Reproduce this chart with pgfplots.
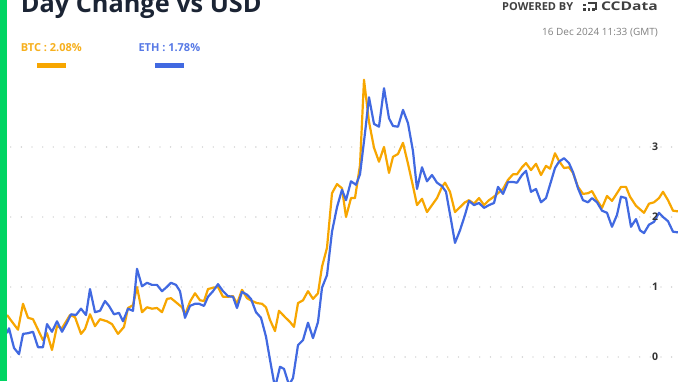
\documentclass[border=0pt]{standalone}
\usepackage{fontspec}
\setmainfont{Open Sans}
\usepackage{pgfplots}
\pgfplotsset{compat=1.18}
\definecolor{btc}{RGB}{247,166,0}
\definecolor{eth}{RGB}{65,105,225}
\definecolor{btclab}{RGB}{247,176,30}
\definecolor{ethlab}{RGB}{88,122,230}
\definecolor{barg}{RGB}{0,213,99}
\definecolor{titlec}{RGB}{27,36,52}
\definecolor{gridc}{RGB}{190,190,190}
\begin{document}
\begin{tikzpicture}[x=1pt,y=1pt]
\clip (0,0) rectangle (678,381);
\fill[white] (0,0) rectangle (678,381);
\begin{axis}[
  at={(0,0)}, anchor=south west,
  scale only axis, width=678pt, height=381pt,
  xmin=0, xmax=678, ymin=-0.343, ymax=5.1,
  axis lines=none, ticks=none, clip=true,
]
\pgfplotsinvokeforeach{0,1,2,3}{
  \draw[gridc, line width=1.3pt, line cap=round, dash pattern=on 0pt off 10.66pt] (axis cs:10.7,#1) -- (axis cs:675,#1);
}
\addplot[btc, line width=2.2pt, line join=round] coordinates {
(7,0.60)(18,0.39)(23,0.76)(28,0.56)(33,0.54)(43,0.24)(47,0.34)(52,0.10)(57,0.44)(62,0.41)
(70,0.60)(75,0.57)(81,0.33)(85,0.40)(90,0.61)(95,0.44)(100,0.54)(107,0.51)(112,0.47)(118,0.33)
(124,0.43)(128,0.70)(133,0.74)(137,1.00)(142,0.64)(147,0.71)(152,0.69)(157,0.70)(162,0.64)(167,0.83)
(171,0.84)(177,0.77)(182,0.71)(185,0.60)(190,0.79)(195,0.91)(200,0.81)(204,0.80)(208,0.97)(213,0.99)
(218,1.00)(223,0.86)(228,0.86)(233,0.87)(237,0.76)(242,0.96)(247,0.84)(252,0.80)(257,0.77)(262,0.76)
(266,0.71)(270,0.53)(275,0.37)(279,0.66)(285,0.57)(290,0.50)(294,0.43)(298,0.77)(303,0.81)(308,0.94)
(313,0.83)(318,0.91)(322,1.29)(327,1.56)(332,2.34)(337,2.47)(342,2.41)(346,2.00)(351,2.27)(355,2.27)
(360,2.74)(364,3.96)(369,3.36)(374,2.99)(379,2.79)(384,3.00)(389,2.63)(393,2.86)(398,2.90)(403,3.06)
(408,2.76)(413,2.44)(417,2.17)(422,2.26)(427,2.07)(432,2.17)(437,2.27)(442,2.43)(445,2.49)(450,2.36)
(455,2.07)(460,2.14)(465,2.21)(469,2.24)(474,2.19)(479,2.27)(484,2.17)(489,2.24)(494,2.29)(498,2.34)
(503,2.40)(508,2.53)(513,2.61)(517,2.61)(522,2.71)(526,2.77)(531,2.67)(536,2.76)(541,2.60)(546,2.73)
(550,2.69)(555,2.91)(559,2.80)(564,2.70)(569,2.71)(573,2.63)(578,2.43)(583,2.33)(588,2.34)(592,2.37)
(597,2.24)(602,2.13)(607,2.30)(612,2.23)(617,2.34)(621,2.43)(626,2.43)(630,2.29)(636,2.16)(640,2.11)
(644,2.06)(649,2.19)(654,2.21)(659,2.27)(663,2.36)(668,2.24)(673,2.09)(678,2.08)
};
\addplot[eth, line width=2.2pt, line join=round] coordinates {
(7,0.34)(9,0.41)(14,0.13)(19,0.04)(23,0.33)(28,0.34)(33,0.36)(38,0.14)(43,0.14)(47,0.47)
(52,0.36)(57,0.51)(62,0.36)(67,0.49)(71,0.61)(76,0.60)(81,0.69)(86,0.60)(90,0.97)(95,0.64)
(100,0.66)(105,0.80)(109,0.73)(114,0.61)(119,0.63)(123,0.51)(128,0.69)(133,0.66)(137,1.26)(142,1.01)
(147,1.06)(152,1.03)(157,1.03)(162,0.94)(166,0.99)(171,1.06)(176,1.03)(180,0.94)(185,0.56)(190,0.73)
(195,0.76)(199,0.76)(204,0.73)(208,0.86)(213,0.94)(218,1.04)(223,0.94)(228,0.87)(233,0.86)(237,0.70)
(242,0.93)(247,0.89)(251,0.83)(256,0.64)(261,0.56)(266,0.29)(270,-0.04)(275,-0.44)(280,-0.14)(284,-0.17)
(289,-0.40)(293,-0.30)(298,0.17)(303,0.24)(308,0.49)(313,0.27)(318,0.50)(322,0.99)(327,1.17)(332,1.79)
(337,2.14)(342,2.39)(346,2.24)(351,2.51)(356,2.46)(360,2.61)(365,3.20)(369,3.71)(374,3.33)(379,3.29)
(384,3.84)(389,3.41)(393,3.30)(398,3.29)(403,3.53)(408,3.34)(413,2.94)(417,2.40)(422,2.71)(427,2.51)
(432,2.60)(437,2.49)(442,2.44)(446,2.36)(451,1.96)(455,1.63)(460,1.81)(465,2.03)(469,2.23)(474,2.17)
(479,2.20)(484,2.13)(489,2.17)(494,2.20)(498,2.43)(503,2.33)(508,2.50)(513,2.50)(517,2.49)(522,2.60)
(526,2.66)(531,2.36)(536,2.40)(541,2.21)(546,2.27)(550,2.46)(555,2.70)(559,2.79)(564,2.84)(569,2.77)
(573,2.64)(578,2.41)(583,2.24)(588,2.21)(592,2.27)(597,2.21)(602,2.09)(607,2.06)(612,1.86)(617,2.03)
(621,2.29)(626,2.27)(631,1.86)(636,1.97)(640,1.81)(644,1.77)(649,1.89)(654,1.93)(659,2.06)(663,2.00)
(668,1.94)(673,1.79)(678,1.78)
};
\pgfplotsinvokeforeach{0,1,2,3}{
  \node[text=black!80, font=\bfseries\fontsize{10.5}{12}\selectfont, inner sep=0pt] at (axis cs:655,#1) {#1};
}
\end{axis}
\fill[barg] (0,0) rectangle (7.3,381);
\node[anchor=base west, inner sep=0pt, text=titlec, font=\bfseries\fontsize{25.3}{30}\selectfont] at (20.7,368) {Day Change vs USD};
\node[anchor=base west, inner sep=0pt, text=btclab, font=\bfseries\fontsize{11}{13}\selectfont] at (20.7,329) {BTC : 2.08\%};
\fill[btc] (36.7,312.7) rectangle (66,317.7);
\node[anchor=base west, inner sep=0pt, text=ethlab, font=\bfseries\fontsize{11}{13}\selectfont] at (138.3,329) {ETH : 1.78\%};
\fill[eth] (155,312.7) rectangle (184,317.7);
\node[anchor=base west, inner sep=0pt, text=black!75, font=\bfseries\fontsize{11}{13}\selectfont] at (502,370) {POWERED BY};
\begin{scope}[black!75]
\draw[line width=1.6pt] (588,378) -- (596,378) -- (596,371);
\fill (583,370) rectangle (585.5,372.5);
\fill (583,374.5) rectangle (585.5,377);
\fill (587.5,370) rectangle (590,372.5);
\fill (592,370) rectangle (594.5,372.5);
\end{scope}
\node[anchor=base east, inner sep=0pt, text=black!75, font=\bfseries\fontsize{12}{14}\selectfont] at (658,370) {\scalebox{1.3}[1]{CCData}};
\node[anchor=base east, inner sep=0pt, text=black!50, font=\fontsize{10}{12}\selectfont] at (658,345.5) {16 Dec 2024 11:33 (GMT)};
\end{tikzpicture}
\end{document}
